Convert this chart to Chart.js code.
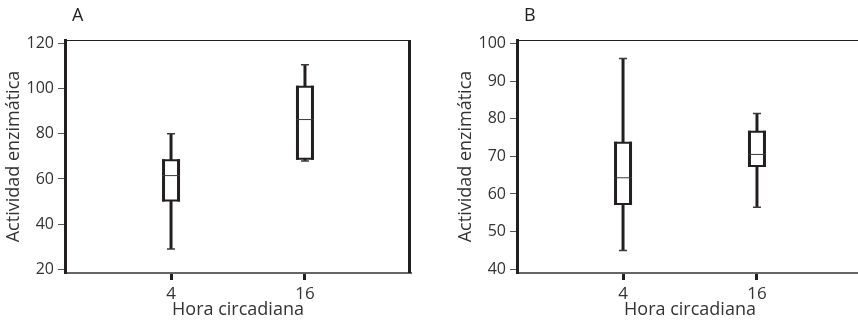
<!DOCTYPE html>
<html>
<head>
<meta charset="utf-8">
<script src="https://cdn.jsdelivr.net/npm/chart.js@4.4.1/dist/chart.umd.min.js"></script>
<style>
  html, body { margin: 0; padding: 0; background: #fff; }
  body { width: 858px; height: 322px; overflow: hidden; position: relative; }
  canvas { position: absolute; top: 0; }
  #chartA { left: 0; }
  #chartB { left: 430px; }
</style>
</head>
<body>
<canvas id="chartA" width="430" height="322"></canvas>
<canvas id="chartB" width="440" height="322"></canvas>
<script>
// ============================================================
// DATA
// ============================================================

const hours = [4, 16];

// Panel A
const minA = [29, 68];
const q1A = [50.5, 69];
const medA = [61.5, 86.3];
const q3A = [68.3, 100.8];
const maxA = [80, 110.5];
const yTicksA = [20, 40, 60, 80, 100, 120];

// Panel B
const minB = [45, 56.5];
const q1B = [57.3, 67.4];
const medB = [64.3, 70.5];
const q3B = [73.6, 76.5];
const maxB = [96, 81.4];
const yTicksB = [40, 50, 60, 70, 80, 90, 100];

const INK = '#231f20';
const TEXT = '#333333';

Chart.defaults.font.family = "'Open Sans', sans-serif";
Chart.defaults.font.size = 16;
Chart.defaults.color = TEXT;

// ============================================================
// PLUGINS
// ============================================================

// Draws box + whiskers for each point from dataset.stats
const boxPlot = {
  id: 'boxPlot',
  afterDatasetsDraw(chart) {
    const { ctx, scales: { x, y } } = chart;
    chart.data.datasets.forEach(ds => {
      const st = ds.stats;
      ds.data.forEach((p, i) => {
        const cx = x.getPixelForValue(p.x);
        const half = 9;
        const yMin = y.getPixelForValue(st.min[i]);
        const yMax = y.getPixelForValue(st.max[i]);
        const yQ1 = y.getPixelForValue(st.q1[i]);
        const yQ3 = y.getPixelForValue(st.q3[i]);
        const yMed = y.getPixelForValue(st.med[i]);
        ctx.save();
        // whisker
        ctx.strokeStyle = INK;
        ctx.lineWidth = 3;
        ctx.beginPath();
        ctx.moveTo(cx, yMin);
        ctx.lineTo(cx, yMax);
        ctx.stroke();
        // caps
        ctx.lineWidth = 1.5;
        ctx.strokeStyle = '#3a3a3a';
        ctx.beginPath();
        ctx.moveTo(cx - 4, yMin); ctx.lineTo(cx + 4, yMin);
        ctx.moveTo(cx - 4, yMax); ctx.lineTo(cx + 4, yMax);
        ctx.stroke();
        // box
        ctx.fillStyle = '#fff';
        ctx.fillRect(cx - half, yQ3, half * 2, yQ1 - yQ3);
        ctx.strokeStyle = INK;
        ctx.lineWidth = 2;
        ctx.beginPath();
        ctx.moveTo(cx - half, yQ3); ctx.lineTo(cx + half, yQ3);
        ctx.moveTo(cx - half, yQ1); ctx.lineTo(cx + half, yQ1);
        ctx.stroke();
        ctx.lineWidth = 3;
        ctx.beginPath();
        ctx.moveTo(cx - half + 1.5, yQ3 - 1); ctx.lineTo(cx - half + 1.5, yQ1 + 1);
        ctx.moveTo(cx + half - 1.5, yQ3 - 1); ctx.lineTo(cx + half - 1.5, yQ1 + 1);
        ctx.stroke();
        // median
        ctx.lineWidth = 1;
        ctx.strokeStyle = '#3a3a3a';
        ctx.beginPath();
        ctx.moveTo(cx - half, yMed); ctx.lineTo(cx + half, yMed);
        ctx.stroke();
        ctx.restore();
      });
    });
  }
};

// Top and right frame lines, plus the panel letter
const frame = {
  id: 'frame',
  afterDraw(chart, args, opts) {
    const { ctx, chartArea: a } = chart;
    ctx.save();
    ctx.strokeStyle = INK;
    ctx.lineWidth = 1;
    ctx.beginPath();
    ctx.moveTo(a.left, a.top + 0.5);
    ctx.lineTo(a.right, a.top + 0.5);
    ctx.stroke();
    ctx.lineWidth = 3;
    ctx.beginPath();
    ctx.moveTo(a.right - 1.5, a.top);
    ctx.lineTo(a.right - 1.5, a.bottom);
    ctx.stroke();
    ctx.fillStyle = INK;
    ctx.font = "18px 'Open Sans', sans-serif";
    ctx.textBaseline = 'alphabetic';
    ctx.fillText(opts.letter, a.left + 7, 20.5);
    ctx.restore();
  }
};

// ============================================================
// CHART BUILDER
// ============================================================

function makeChart(id, letter, stats, yMin, yMax, yTicks, padLeft, padRight) {
  return new Chart(document.getElementById(id), {
    type: 'scatter',
    data: {
      datasets: [{
        data: hours.map((h, i) => ({ x: h, y: stats.med[i] })),
        stats,
        pointRadius: 0,
        pointHoverRadius: 0
      }]
    },
    options: {
      responsive: false,
      animation: false,
      events: [],
      layout: { padding: { top: 40, left: padLeft, right: padRight, bottom: 0 } },
      plugins: {
        legend: { display: false },
        tooltip: { enabled: false },
        frame: { letter }
      },
      scales: {
        x: {
          type: 'linear',
          min: -5.5,
          max: 25.5,
          afterBuildTicks: s => { s.ticks = hours.map(v => ({ value: v })); },
          afterFit: s => { s.height = 49; },
          grid: { drawOnChartArea: false, tickLength: 7, tickWidth: 3, tickColor: INK },
          border: { color: '#666', width: 2 },
          ticks: { padding: 4, color: TEXT, font: { size: 17 } },
          title: { display: true, text: 'Hora circadiana', padding: { top: 0, bottom: 1 }, color: TEXT, font: { size: 18 } }
        },
        y: {
          min: yMin,
          max: yMax,
          afterBuildTicks: s => { s.ticks = yTicks.map(v => ({ value: v })); },
          afterFit: s => { s.width = 65; },
          grid: { drawOnChartArea: false, tickLength: 7, tickWidth: 1, tickColor: '#555' },
          border: { color: INK, width: 3 },
          ticks: { padding: 4, color: TEXT, font: { size: 16 } },
          title: { display: true, text: 'Actividad enzimática', padding: { top: 3, bottom: 0 }, color: TEXT, font: { size: 18 } }
        }
      }
    },
    plugins: [boxPlot, frame]
  });
}

makeChart('chartA', 'A',
  { min: minA, q1: q1A, med: medA, q3: q3A, max: maxA },
  18.4, 121.5, yTicksA, 0, 19);

makeChart('chartB', 'B',
  { min: minB, q1: q1B, med: medB, q3: q3B, max: maxB },
  39.0, 100.9, yTicksB, 22, 7);
</script>
</body>
</html>
